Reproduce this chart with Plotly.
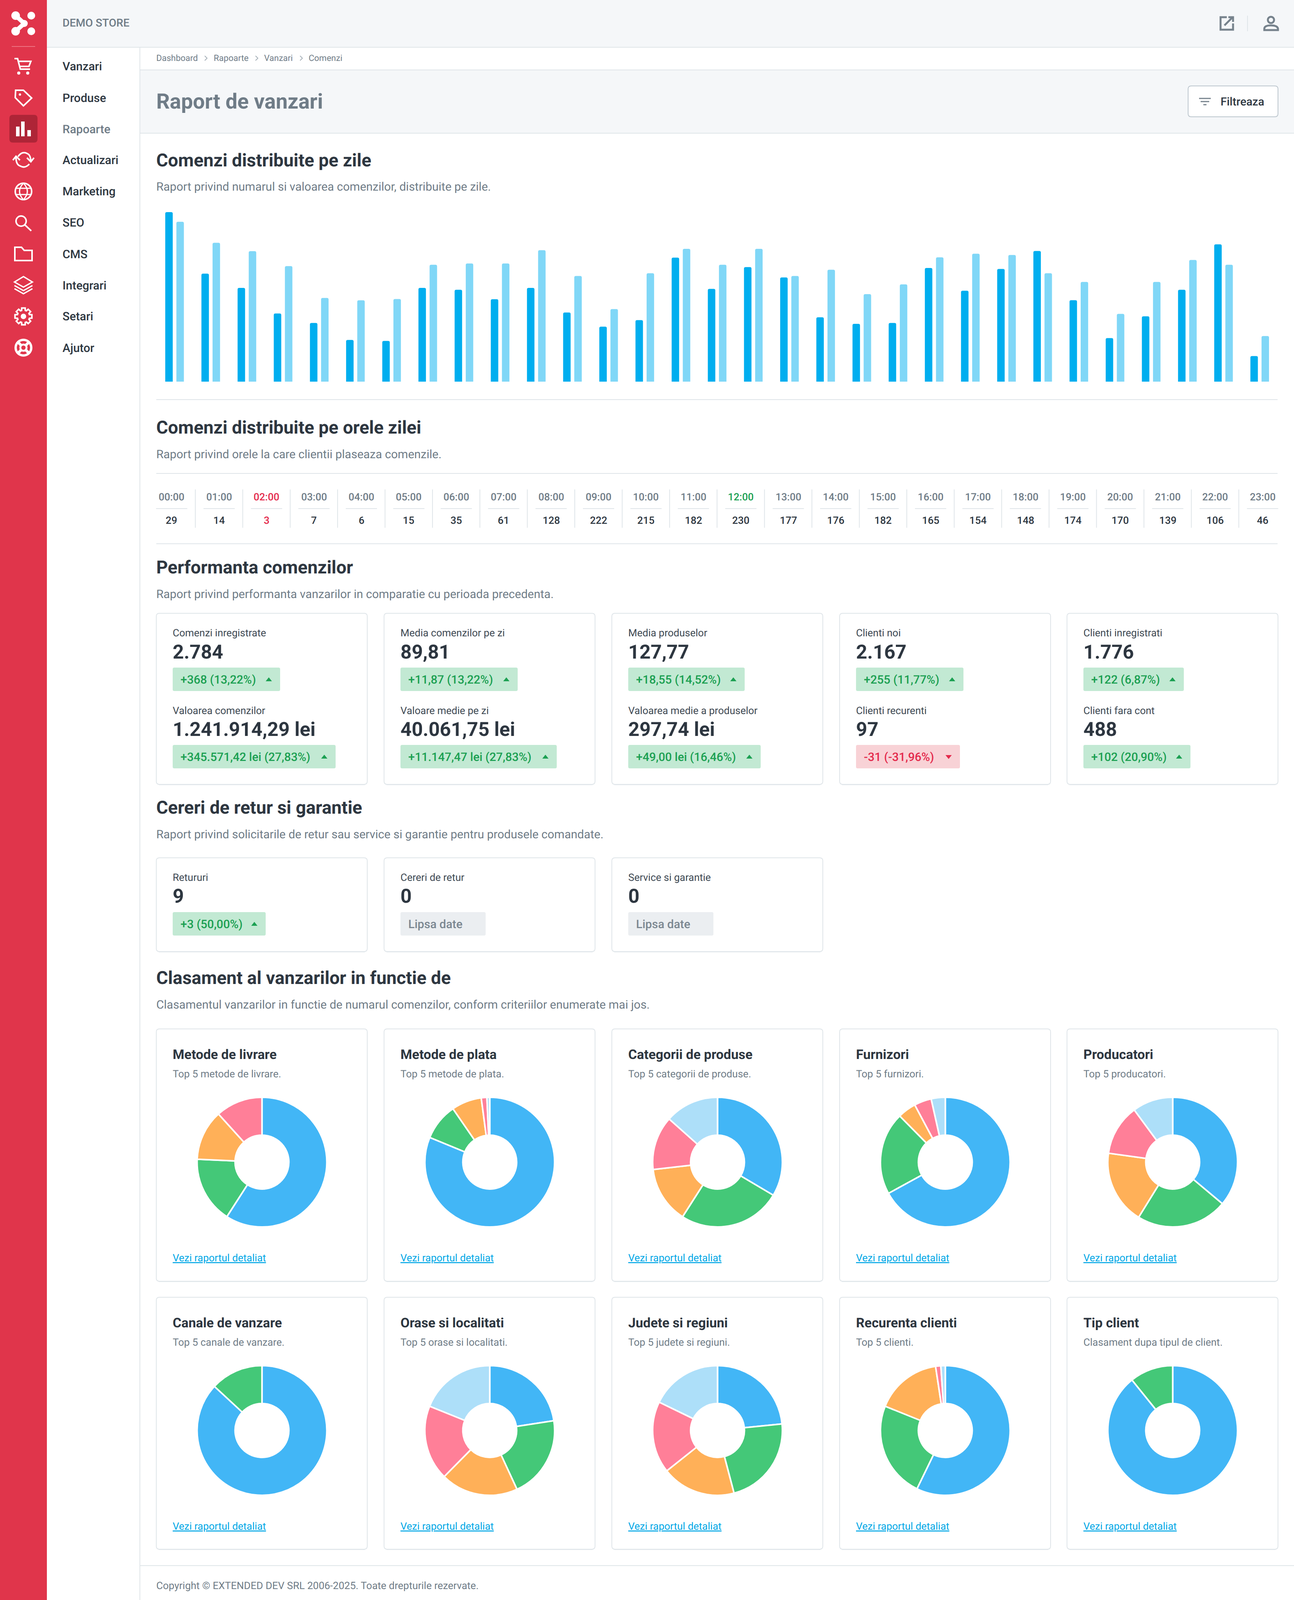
import math
import re

import plotly.graph_objects as go

W, H = 3312, 4110

# --- data ---
nav_items = ["Vanzari", "Produse", "Rapoarte", "Actualizari", "Marketing", "SEO", "CMS", "Integrari", "Setari", "Ajutor"]
breadcrumbs = ["Dashboard", "Rapoarte", "Vanzari", "Comenzi"]

days = list(range(1, 32))
daily_orders = [179, 114, 99, 72, 62, 44, 43, 99, 97, 87, 99, 73, 58, 65, 131, 98,
                121, 110, 68, 61, 62, 120, 96, 119, 138, 86, 46, 69, 97, 145, 27]
daily_value = [58620, 50900, 47830, 42350, 30690, 29820, 30280, 42860, 43330, 43330, 48180,
               38720, 26600, 39740, 48700, 42860, 48700, 38720, 41020, 32070, 35650, 45570,
               46910, 46440, 39740, 36570, 24860, 36570, 44600, 42860, 16730]

hour_labels = ["00:00", "01:00", "02:00", "03:00", "04:00", "05:00", "06:00", "07:00", "08:00", "09:00", "10:00", "11:00",
               "12:00", "13:00", "14:00", "15:00", "16:00", "17:00", "18:00", "19:00", "20:00", "21:00", "22:00", "23:00"]
hour_counts = [29, 14, 3, 7, 6, 15, 35, 61, 128, 222, 215, 182, 230, 177, 176, 182, 165, 154, 148, 174, 170, 139, 106, 46]

kpi_top_labels = ["Comenzi inregistrate", "Media comenzilor pe zi", "Media produselor", "Clienti noi", "Clienti inregistrati"]
kpi_top_values = ["2.784", "89,81", "127,77", "2.167", "1.776"]
kpi_top_deltas = ["+368 (13,22%)", "+11,87 (13,22%)", "+18,55 (14,52%)", "+255 (11,77%)", "+122 (6,87%)"]
kpi_bottom_labels = ["Valoarea comenzilor", "Valoare medie pe zi", "Valoarea medie a produselor", "Clienti recurenti", "Clienti fara cont"]
kpi_bottom_values = ["1.241.914,29 lei", "40.061,75 lei", "297,74 lei", "97", "488"]
kpi_bottom_deltas = ["+345.571,42 lei (27,83%)", "+11.147,47 lei (27,83%)", "+49,00 lei (16,46%)", "-31 (-31,96%)", "+102 (20,90%)"]

return_labels = ["Retururi", "Cereri de retur", "Service si garantie"]
return_values = ["9", "0", "0"]
return_deltas = ["+3 (50,00%)", "Lipsa date", "Lipsa date"]

pie_titles = ["Metode de livrare", "Metode de plata", "Categorii de produse", "Furnizori", "Producatori",
              "Canale de vanzare", "Orase si localitati", "Judete si regiuni", "Recurenta clienti", "Tip client"]
pie_subtitles = ["Top 5 metode de livrare.", "Top 5 metode de plata.", "Top 5 categorii de produse.", "Top 5 furnizori.", "Top 5 producatori.",
                 "Top 5 canale de vanzare.", "Top 5 orase si localitati.", "Top 5 judete si regiuni.", "Top 5 clienti.", "Clasament dupa tipul de client."]
pie_values = [
    [59.1, 16.6, 12.6, 11.7],
    [81.2, 9.2, 7.5, 1.4, 0.7],
    [33.5, 25.5, 14.1, 13.4, 13.4],
    [67.0, 20.6, 4.6, 4.3, 3.5],
    [36.1, 22.7, 18.4, 12.7, 10.1],
    [86.9, 13.1],
    [22.6, 20.5, 19.3, 18.7, 18.9],
    [23.4, 22.5, 18.4, 17.9, 17.8],
    [57.2, 23.9, 16.5, 1.3, 1.1],
    [89.2, 10.8],
]

# --- colours ---
RED = "#E0354B"
RED_DARK = "#AE2537"
BAND = "#F5F7F9"
RULE = "#DFE5E9"
INK = "#2D3640"
GREY = "#6F7C87"
ICON = "#76828C"
GREEN = "#1BA052"
GREEN_BG = "#C2E9D3"
ALERT = "#E4294B"
ALERT_BG = "#F8D2D6"
LINK = "#00A7E6"
PIE_COLORS = ["#42B6F6", "#44C878", "#FFB058", "#FF7F98", "#ADDFF9"]
FONT = "Roboto"

shapes = []
annotations = []


def fx(x):
    return x / W


def fy(y):
    return 1 - y / H


def to_path(d):
    # px path string -> paper path string, absolute commands only
    out = []
    is_x = True
    for tok in re.findall(r"[MLQCZ]|-?\d+\.?\d*", d):
        if tok.isalpha():
            out.append(tok)
            is_x = True
        else:
            out.append(f"{fx(float(tok)) if is_x else fy(float(tok)):.6f}")
            is_x = not is_x
    return " ".join(out)


def path(d, fill=None, line=None, lw=0):
    shapes.append(dict(type="path", path=to_path(d), xref="paper", yref="paper", layer="below",
                       fillcolor=fill or "rgba(0,0,0,0)", line=dict(color=line or "rgba(0,0,0,0)", width=lw)))


def rect(x0, y0, x1, y1, fill=None, line=None, lw=0, r=0):
    if r:
        d = (f"M{x0 + r} {y0} L{x1 - r} {y0} Q{x1} {y0} {x1} {y0 + r} L{x1} {y1 - r} Q{x1} {y1} {x1 - r} {y1} "
             f"L{x0 + r} {y1} Q{x0} {y1} {x0} {y1 - r} L{x0} {y0 + r} Q{x0} {y0} {x0 + r} {y0} Z")
    else:
        d = f"M{x0} {y0} L{x1} {y0} L{x1} {y1} L{x0} {y1} Z"
    path(d, fill, line, lw)


def hline(x0, x1, y, color=RULE, lw=2):
    path(f"M{x0} {y} L{x1} {y}", None, color, lw)


def vline(x, y0, y1, color=RULE, lw=2):
    path(f"M{x} {y0} L{x} {y1}", None, color, lw)


def circle(cx, cy, r, fill=None, line=None, lw=0):
    shapes.append(dict(type="circle", xref="paper", yref="paper", layer="below",
                       x0=fx(cx - r), x1=fx(cx + r), y0=fy(cy - r), y1=fy(cy + r),
                       fillcolor=fill or "rgba(0,0,0,0)", line=dict(color=line or "rgba(0,0,0,0)", width=lw)))


def label(x, y, s, size, color=INK, weight=400, anchor="left"):
    annotations.append(dict(x=fx(x - 1 if anchor == "left" else x), y=fy(y), xref="paper", yref="paper", text=s,
                            showarrow=False, xanchor=anchor, yanchor="middle", borderpad=0,
                            font=dict(family=FONT, size=size, color=color, weight=weight)))


def card(x0, y0, x1, y1):
    rect(x0, y0, x1, y1, WHITE, RULE, 2, 8)
    hline(x0 + 6, x1 - 6, y1 + 1, "#E4E9ED", 2)


# --- page frame ---
WHITE = "#FFFFFF"
rect(120, 0, W, 121, BAND)
rect(358, 179, W, 341, BAND)
rect(0, 0, 120, H, RED)
hline(120, W, 121)
hline(358, W, 179)
hline(358, W, 341)
vline(358, 121, H)

# logo
path("M40 40 L62 60 L40 80", None, WHITE, 11)
for c, r in [((40, 40), 11), ((80, 40), 10), ((40, 80), 11), ((80, 80), 10), ((62, 60), 9)]:
    circle(c[0], c[1], r, WHITE)
hline(30, 90, 119, "#EE7483", 2)

# sidebar icons
path("M37 150 L45 150 L52 177 L77 177 M46 157 L79 157 L74 170 L50 170", None, WHITE, 4)
circle(48, 187, 4, WHITE)
circle(71, 187, 4, WHITE)
path("M40 231 L60 231 L81 251 L60 271 L39 250 Z", None, WHITE, 4)
circle(51, 242, 3, WHITE)
rect(24, 294, 96, 365, RED_DARK, r=9)
rect(41, 324, 50, 349, WHITE)
rect(54, 311, 63, 349, WHITE)
rect(70, 333, 79, 349, WHITE)
path("M46 401 Q58 384 73 395 Q78 399 79 412 M69 404 L79 414 L87 404", None, WHITE, 4)
path("M41 403 Q41 422 52 425 Q64 432 75 420 M33 410 L41 400 L51 410", None, WHITE, 4)
circle(60, 490, 21, None, WHITE, 4)
path("M60 469 Q40 490 60 511 Q80 490 60 469 M41 482 L79 482 M41 498 L79 498", None, WHITE, 3)
circle(54, 566, 13, None, WHITE, 4)
path("M64 576 L80 591", None, WHITE, 4)
path("M38 633 L55 633 L62 641 L82 641 L82 667 L38 667 Z", None, WHITE, 4)
path("M60 708 L83 722 L60 735 L37 722 Z M37 731 L60 744 L83 731 M37 739 L60 752 L83 739", None, WHITE, 3.5)
gear = []
for i in range(8):
    mid = i * math.pi / 4
    for off, rad in [(-0.3, 16), (-0.2, 22), (0.2, 22), (0.3, 16)]:
        gear.append(f"{60 + rad * math.sin(mid + off):.1f} {810 - rad * math.cos(mid + off):.1f}")
path("M" + " L".join(gear) + " Z", None, WHITE, 4)
circle(60, 810, 7, WHITE)
circle(60, 890, 20, None, WHITE, 6)
circle(60, 890, 8, None, WHITE, 5)
for sx in (-1, 1):
    for sy in (-1, 1):
        path(f"M{60 + 7 * sx} {890 + 7 * sy} L{60 + 16 * sx} {890 + 16 * sy}", None, WHITE, 7)

# top right icons and filter button
path("M3140 44 L3124 44 L3124 76 L3156 76 L3156 60", None, ICON, 5)
path("M3134 65 L3155 44 M3144 44 L3156 44 L3156 56", None, ICON, 5)
vline(3193, 40, 80)
circle(3253, 51, 8, None, ICON, 5)
path("M3236 77 L3271 77 L3271 73 Q3269 65 3253 65 Q3237 65 3236 73 Z", None, ICON, 5)
rect(3041, 220, 3271, 299, WHITE, "#BCC6CE", 2, 8)
hline(3069, 3099, 252, ICON, 3)
hline(3073, 3095, 260, ICON, 3)
hline(3080, 3088, 268, ICON, 3)
label(3124, 260, "Filtreaza", 29, INK, 500)

label(160, 59, "DEMO STORE", 28, GREY, 500)
for i, item in enumerate(nav_items):
    label(160, 170 + 80 * i, item, 30, GREY if item == "Rapoarte" else INK, 500)

for s, x in zip(breadcrumbs, [400, 547, 676, 790]):
    label(x, 149, s, 22, GREY)
for x in [527, 657, 771]:
    path(f"M{x - 3} {143} L{x + 3} {149} L{x - 3} {155}", None, "#A6B0B8", 2)
label(400, 259, "Raport de vanzari", 54, GREY, 700)


def section(y, title, subtitle):
    label(400, y, title, 46, INK, 700)
    label(400, y + 68, subtitle, 30, GREY)


section(410, "Comenzi distribuite pe zile", "Raport privind numarul si valoarea comenzilor, distribuite pe zile.")
hline(400, 3270, 1023)

section(1094, "Comenzi distribuite pe orele zilei", "Raport privind orele la care clientii plaseaza comenzile.")
hline(400, 3270, 1212)
hline(400, 3270, 1392)
low_hour = hour_counts.index(min(hour_counts))
top_hour = hour_counts.index(max(hour_counts))
for i, (h, n) in enumerate(zip(hour_labels, hour_counts)):
    cx = 439.4 + 121.4 * i
    color = ALERT if i == low_hour else (GREEN if i == top_hour else GREY)
    label(cx, 1272, h, 26, color, 500, "center")
    label(cx, 1332, str(n), 26, ALERT if i == low_hour else INK, 500, "center")
    hline(cx - 40, cx + 40, 1302)
    if i < 23:
        vline(cx + 60.5, 1253, 1351)

CARD_X = [400, 983, 1566, 2149, 2731]
CARD_W = 540


def badge(x, y, w, s):
    neutral = s == "Lipsa date"
    down = s.startswith("-")
    bg = "#EBEEF1" if neutral else (ALERT_BG if down else GREEN_BG)
    fg = "#7B8791" if neutral else (ALERT if down else GREEN)
    rect(x, y, x + w, y + 60, bg, r=4)
    label(x + 20, y + 30, s, 30, fg, 500)
    if neutral:
        return
    tx = x + w - 29
    if down:
        path(f"M{tx - 8} {y + 26} L{tx + 8} {y + 26} L{tx} {y + 36} Z", fg)
    else:
        path(f"M{tx - 8} {y + 35} L{tx + 8} {y + 35} L{tx} {y + 25} Z", fg)


section(1452, "Performanta comenzilor", "Raport privind performanta vanzarilor in comparatie cu perioada precedenta.")
top_widths = [275, 300, 298, 275, 257]
bottom_widths = [417, 400, 339, 266, 274]
for i, x in enumerate(CARD_X):
    card(x, 1570, x + CARD_W, 2008)
    label(x + 42, 1620, kpi_top_labels[i], 26, "#3D4852")
    label(x + 42, 1669, kpi_top_values[i], 50, INK, 700)
    badge(x + 42, 1709, top_widths[i], kpi_top_deltas[i])
    label(x + 42, 1819, kpi_bottom_labels[i], 26, "#3D4852")
    label(x + 42, 1867, kpi_bottom_values[i], 50, INK, 700)
    badge(x + 42, 1907, bottom_widths[i], kpi_bottom_deltas[i])

section(2067, "Cereri de retur si garantie", "Raport privind solicitarile de retur sau service si garantie pentru produsele comandate.")
return_widths = [238, 218, 218]
for i, x in enumerate(CARD_X[:3]):
    card(x, 2196, x + CARD_W, 2436)
    label(x + 42, 2246, return_labels[i], 26, "#3D4852")
    label(x + 42, 2294, return_values[i], 50, INK, 700)
    badge(x + 42, 2335, return_widths[i], return_deltas[i])

section(2503, "Clasament al vanzarilor in functie de", "Clasamentul vanzarilor in functie de numarul comenzilor, conform criteriilor enumerate mai jos.")

fig = go.Figure()

# daily bars, two value scales sharing one band
fig.add_trace(go.Bar(x=days, y=daily_orders, name="Comenzi", width=0.207, offset=-0.252, yaxis="y",
                     marker=dict(color="#00AEEF", line=dict(width=0))))
fig.add_trace(go.Bar(x=days, y=daily_value, name="Valoare", width=0.207, offset=0.056, yaxis="y2",
                     marker=dict(color="#80D7F7", line=dict(width=0))))

# donuts
ROW_Y = [(2634, 3280), (3321, 3966)]
for i, vals in enumerate(pie_values):
    row, col = divmod(i, 5)
    x = CARD_X[col]
    top, bottom = ROW_Y[row]
    card(x, top, x + CARD_W, bottom)
    label(x + 42, top + 65, pie_titles[i], 34, INK, 700)
    label(x + 42, top + 115, pie_subtitles[i], 26, GREY)
    label(x + 42, top + 586, "<u>Vezi raportul detaliat</u>", 26, LINK)
    cx, cy, r = x + 270.5, top + 341, 166
    fig.add_trace(go.Pie(values=vals, sort=False, direction="clockwise", rotation=0, hole=0.415,
                         textinfo="none", showlegend=False, hoverinfo="skip",
                         marker=dict(colors=PIE_COLORS[:len(vals)], line=dict(color=WHITE, width=4)),
                         domain=dict(x=[fx(cx - r), fx(cx + r)], y=[fy(cy + r), fy(cy - r)])))

hline(358, W, 4008)
label(400, 4059, "Copyright © EXTENDED DEV SRL 2006-2025. Toate drepturile rezervate.", 26, GREY)

fig.update_layout(
    width=W,
    height=H,
    margin=dict(l=0, r=0, t=0, b=0),
    paper_bgcolor="#FFFFFF",
    plot_bgcolor="rgba(0,0,0,0)",
    showlegend=False,
    barmode="overlay",
    barcornerradius=4,
    shapes=shapes,
    annotations=annotations,
    xaxis=dict(domain=[fx(400), fx(3270)], range=[0.5, 31.5], visible=False, fixedrange=True),
    yaxis=dict(domain=[fy(977), fy(543)], range=[0, 179], visible=False, fixedrange=True),
    yaxis2=dict(overlaying="y", range=[0, 62150], visible=False, fixedrange=True),
)

# subpixel glyph positioning, the page text is otherwise snapped to whole pixels
css = "svg text{text-rendering:geometricPrecision !important}"
post = f"document.body.style.margin='0';var s=document.createElement('style');s.textContent='{css}';document.head.appendChild(s);"
fig.write_html("out.html", config={"displayModeBar": False}, post_script=post)
